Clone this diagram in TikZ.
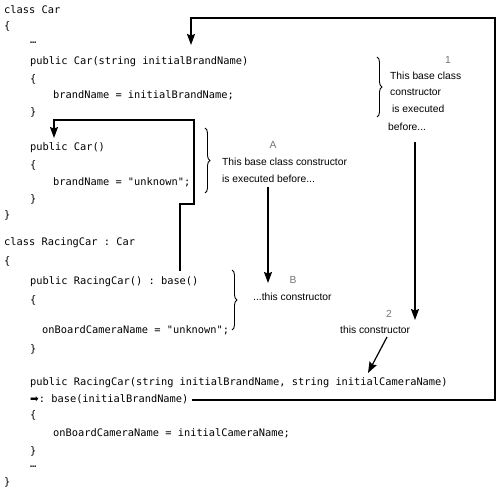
\documentclass[tikz,border=0pt]{standalone}
\usepackage{fontspec}
\setmainfont{Liberation Sans}
\setmonofont{DejaVu Sans Mono}
\newfontfamily\dsans{DejaVu Sans}
\usetikzlibrary{arrows.meta,decorations.pathreplacing}
\begin{document}
\begin{tikzpicture}[x=1pt,y=-1pt,
  code/.style={anchor=west,inner sep=0pt,text height=7.6pt,text depth=2pt,font=\ttfamily\fontsize{10.35}{12}\selectfont},
  lbl/.style={anchor=west,inner sep=0pt,text height=7.6pt,text depth=2pt,font=\fontsize{10.3}{12}\selectfont},
  num/.style={lbl,anchor=center,text=black!55},
  conn/.style={line width=1.2pt,-{Stealth[length=11pt,width=8pt,inset=1.5pt]}},
  brc/.style={line width=0.9pt,decorate,decoration={brace,amplitude=5pt}}]
\useasboundingbox (0,0) rectangle (500,494);
% code listing
\node[code] (l1)  at (4,11)  {class Car};
\node[code] (l2)  at (4,27)  {\{};
\node[code] (l3)  at (30,41) {…};
\node[code] (l4)  at (30,62) {public Car(string initialBrandName)};
\node[code] (l5)  at (30,80) {\{};
\node[code] (l6)  at (53,96) {brandName = initialBrandName;};
\node[code] (l7)  at (30,113) {\}};
\node[code] (l8)  at (30,148) {public Car()};
\node[code] (l9)  at (30,166) {\{};
\node[code] (l10) at (53,183) {brandName = "unknown";};
\node[code] (l11) at (30,200) {\}};
\node[code] (l12) at (4,216) {\}};
\node[code] (l13) at (4,243) {class RacingCar : Car};
\node[code] (l14) at (4,262) {\{};
\node[code] (l15) at (30,282) {public RacingCar() : base()};
\node[code] (l16) at (30,301) {\{};
\node[code] (l17) at (42,331) {onBoardCameraName = "unknown";};
\node[code] (l18) at (30,350) {\}};
\node[code] (l19) at (30,383) {public RacingCar(string initialBrandName, string initialCameraName)};
\node[code] (l20) at (30,400) {{\dsans ➡}: base(initialBrandName)};
\node[code] (l21) at (30,416) {\{};
\node[code] (l22) at (53,434) {onBoardCameraName = initialCameraName;};
\node[code] (l23) at (30,452) {\}};
\node[code] (l24) at (30,465) {…};
\node[code] (l25) at (4,483) {\}};
% annotations
\node[num] (n1) at (448,61) {1};
\node[lbl] (t1a) at (390,77) {This base class};
\node[lbl] (t1b) at (390,93) {constructor};
\node[lbl] (t1c) at (392,110) {is executed};
\node[lbl] (t1d) at (388,128) {before...};
\node[num] (nA) at (273,146) {A};
\node[lbl] (tAa) at (222,163) {This base class constructor};
\node[lbl] (tAb) at (222,180) {is executed before...};
\node[num] (nB) at (293,281) {B};
\node[lbl] (tB) at (253,298) {...this constructor};
\node[num] (n2) at (389,315) {2};
\node[lbl] (t2) at (340,331) {this constructor};
% braces
\draw[brc] (377,57) -- (377,117);
\draw[brc] (205,128) -- (205,193);
\draw[brc] (232,270) -- (232,330);
% connector waypoints
\coordinate (f0) at ([xshift=3pt]l20.east);
\coordinate (f1) at (495,400);
\coordinate (f2) at (495,18);
\coordinate (f3) at (191,18);
\coordinate (f4) at (191,45);
\coordinate (a0) at (180,271);
\coordinate (a1) at (180,204);
\coordinate (a2) at (194,204);
\coordinate (a3) at (194,120);
\coordinate (a4) at (54,120);
\coordinate (a5) at (54,138);
\coordinate (c1s) at (415,142);
\coordinate (c1e) at (415,320);
\coordinate (cAs) at (268,187);
\coordinate (cAe) at (268,283);
\coordinate (c2s) at (387,337);
\coordinate (c2e) at (368,373);
% connectors
\draw[conn] (f0) -- (f1) -- (f2) -- (f3) -- (f4);
\draw[conn] (a0) -- (a1) -- (a2) -- (a3) -- (a4) -- (a5);
\draw[conn] (c1s) -- (c1e);
\draw[conn] (cAs) -- (cAe);
\draw[conn] (c2s) -- (c2e);
\end{tikzpicture}
\end{document}
